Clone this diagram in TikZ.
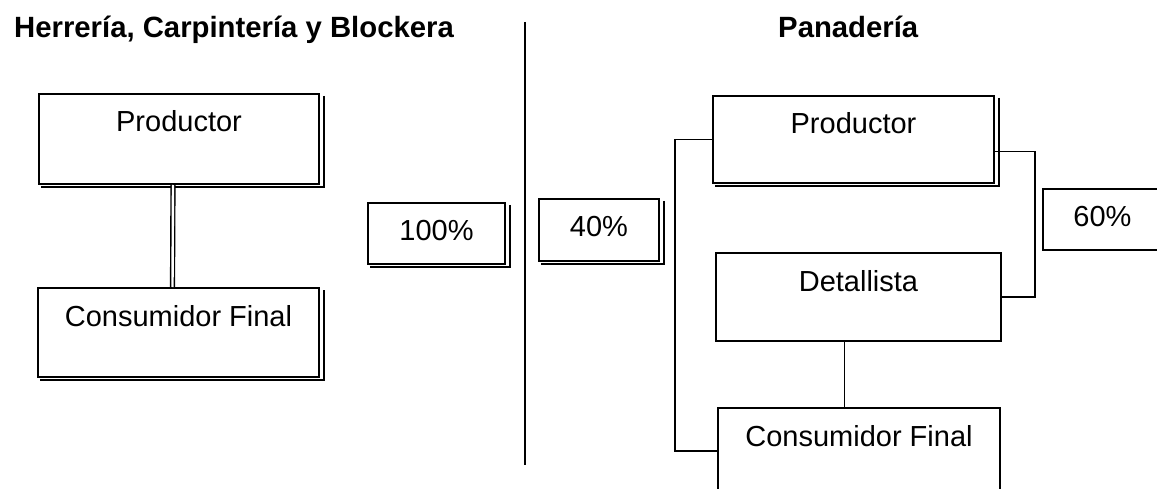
\documentclass[tikz,border=0pt]{standalone}
\usepackage{fontspec}
\setmainfont{Liberation Sans}
\newcommand\myshadow[1]{%
  \draw[shadowline] ([xshift=4pt,yshift=-3pt]#1.north east) -- ([xshift=4pt,yshift=-2.5pt]#1.south east);
  \draw[shadowbottom] ([xshift=3pt,yshift=-2pt]#1.south west) -- ([xshift=5pt,yshift=-2pt]#1.south east);}
\begin{document}
\begin{tikzpicture}[x=1pt,y=-1pt,
  box/.style={draw, line width=2pt, fill=white, inner sep=0pt, anchor=north west,
    text height=38pt, font=\fontsize{29}{34}\selectfont},
  shadowline/.style={line width=1.6pt},
  shadowbottom/.style={line width=2.4pt},
  conn/.style={line width=1.9pt},
  dconn/.style={line width=1.4pt, double, double distance=2.4pt},
  title/.style={anchor=base west, inner sep=0pt, font=\fontsize{29.3}{34}\selectfont\bfseries}]
\useasboundingbox (0,0) rectangle (1157,489);
% titles
\node[title] (t1) at (14,38) {Herrería, Carpintería y Blockera};
\node[title] (t2) at (778,38) {Panadería};
% separator
\coordinate (sepTop) at (525,22);
\coordinate (sepBot) at (525,465);
\draw[conn] (sepTop) -- (sepBot);
% left column
\node[box, minimum width=280pt, text depth=52pt] (lp) at (38,93) {Productor};
\node[box, minimum width=281pt, text depth=51pt] (lc) at (37,287) {Consumidor Final};
\myshadow{lp}\myshadow{lc}
\draw[dconn] ([xshift=-6pt]lp.south) -- ([xshift=-6pt]lc.north);
% percentages
\node[box, minimum width=137pt, text depth=23pt] (p100) at (367,202) {100\%};
\node[box, minimum width=120pt, text depth=24pt] (p40) at (538,198) {40\%};
\node[box, minimum width=119pt, text depth=23pt] (p60) at (1042,188) {60\%};
\myshadow{p100}\myshadow{p40}
% right column
\node[box, minimum width=281pt, text depth=49pt] (rp) at (712,95) {Productor};
\node[box, minimum width=285pt, text depth=50pt] (rd) at (715,252) {Detallista};
\node[box, minimum width=282pt, text depth=48pt] (rc) at (717,407) {Consumidor Final};
\myshadow{rp}
\draw[conn] (rp.west) -- ++(-37,0) |- (rc.west);
\draw[conn] ([yshift=-12pt]rp.east) -- ++(40,0) |- (rd.east);
\draw[conn] ([xshift=-14pt]rd.south) -- ([xshift=-14pt]rd.south |- rc.north);
\end{tikzpicture}
\end{document}
